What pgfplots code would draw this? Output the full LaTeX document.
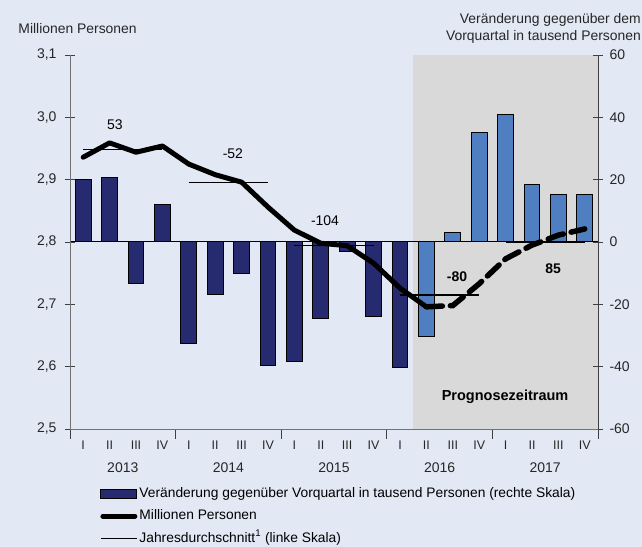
\documentclass[border=0pt]{standalone}
\usepackage{fontspec}
\setmainfont{Liberation Sans}
\usepackage{pgfplots}
\pgfplotsset{compat=1.18}
\usetikzlibrary{backgrounds,calc}
\definecolor{bgcol}{HTML}{E2E9F5}
\definecolor{shadecol}{HTML}{D9D9D9}
\definecolor{navy}{HTML}{262A6E}
\definecolor{lightblue}{HTML}{4F7FC0}
\definecolor{axcol}{HTML}{404040}
\begin{document}
\begin{tikzpicture}
\begin{axis}[name=bars, scale only axis, width=528pt, height=374pt,
  xmin=-0.5, xmax=19.5, ymin=-60, ymax=60,
  axis y line*=right, axis x line*=bottom, axis on top,
  xtick={-0.5,3.5,7.5,11.5,15.5,19.5}, xticklabels={},
  ytick={-60,-40,-20,0,20,40,60},
  tick align=center, major tick length=10pt,
  axis line style={draw=axcol, line width=0.9pt},
  tick style={draw=axcol, line width=0.9pt},
  yticklabel style={font=\fontsize{14}{16}\selectfont, text=black!85, xshift=3pt},
  /pgf/number format/assume math mode=true,
  ybar, bar width=0.6, bar shift=0pt, clip=false]
\fill[shadecol] (axis cs:12.5,-60) rectangle (axis cs:19.5,60);
\addplot[fill=navy, draw=black, line width=1pt] coordinates {
(0,19.9) (1,20.6) (2,-13.2) (3,11.9) (4,-32.7) (5,-16.7) (6,-10.0) (7,-39.5)
(8,-38.2) (9,-24.4) (10,-3.0) (11,-24.0) (12,-40.4)};
\addplot[fill=lightblue, draw=black, line width=1pt] coordinates {
(13,-30.2) (14,3.2) (15,35.0) (16,40.8) (17,18.6) (18,15.1) (19,15.1)};
\draw[black, line width=1pt] (axis cs:-0.5,0) -- (axis cs:19.5,0);
\end{axis}
\begin{axis}[scale only axis, width=528pt, height=374pt,
  xmin=-0.5, xmax=19.5, ymin=2.5, ymax=3.1,
  axis y line*=left, axis x line*=bottom,
  xtick={0,...,19},
  xticklabels={I,II,III,IV,I,II,III,IV,I,II,III,IV,I,II,III,IV,I,II,III,IV},
  xtick style={draw=none},
  xticklabel style={font=\fontsize{12.5}{14}\selectfont, text=black!85, yshift=-3pt},
  extra x ticks={1.5,5.5,9.5,13.5,17.5},
  extra x tick labels={2013,2014,2015,2016,2017},
  extra x tick style={xticklabel style={yshift=-22pt, font=\fontsize{14}{16}\selectfont}},
  ytick={2.5,2.6,2.7,2.8,2.9,3.0,3.1},
  tick align=center, major tick length=10pt,
  axis line style={draw=black!55, line width=0.9pt},
  ytick style={draw=axcol, line width=0.9pt},
  yticklabel style={font=\fontsize{14}{16}\selectfont, text=black!85, xshift=-5pt,
    /pgf/number format/.cd, fixed, fixed zerofill, precision=1, use comma},
  /pgf/number format/assume math mode=true,
  clip=false,
  legend style={at={(0.057,-0.155)}, anchor=north west, draw=none, fill=none,
    font=\fontsize{13.8}{15}\selectfont, row sep=9.5pt, inner sep=0pt,
    nodes={inner xsep=2pt, inner ysep=0pt, text height=10pt, text depth=3pt}},
  legend cell align=left]
\addlegendimage{legend image code/.code={\draw[fill=navy, draw=black, line width=1pt] (0pt,-4.5pt) rectangle (36pt,4.5pt);}}
\addlegendentry{Veränderung gegenüber Vorquartal in tausend Personen (rechte Skala)}
\addplot[black, line width=5pt, line join=round, line cap=round,
  legend image code/.code={\draw[black, line width=5pt, line cap=round] (2pt,0pt) -- (34pt,0pt);}] coordinates {
(0,2.936) (1,2.959) (2,2.944) (3,2.954) (4,2.925) (5,2.908) (6,2.896) (7,2.856)
(8,2.819) (9,2.798) (10,2.794) (11,2.766) (12,2.726) (13,2.696)};
\addlegendentry{Millionen Personen}
\addplot[black, line width=5.5pt, dash pattern=on 16pt off 8pt, line cap=round, forget plot] coordinates {
(13,2.696) (14,2.698) (15,2.733) (16,2.773) (17,2.795) (18,2.811) (19,2.821)};
\addplot[black, line width=1.2pt, legend image code/.code={\draw[black, line width=1.2pt] (0pt,0pt) -- (36pt,0pt);}] coordinates {(0,2.949) (3,2.949)};
\addlegendentry{Jahresdurchschnitt\textsuperscript{1} (linke Skala)}
\addplot[black, line width=1.2pt, forget plot] coordinates {(4,2.896) (7,2.896)};
\addplot[black, line width=1.2pt, forget plot] coordinates {(8,2.794) (11,2.794)};
\addplot[black, line width=1.2pt, forget plot] coordinates {(12,2.715) (15,2.715)};
\addplot[black, line width=1.2pt, forget plot] coordinates {(16,2.800) (19,2.800)};
\node[font=\fontsize{14}{16}\selectfont] at (axis cs:1.2,2.988) {53};
\node[font=\fontsize{14}{16}\selectfont] at (axis cs:5.67,2.941) {-52};
\node[font=\fontsize{14}{16}\selectfont] at (axis cs:9.16,2.835) {-104};
\node[font=\bfseries\fontsize{14}{16}\selectfont] at (axis cs:14.16,2.744) {-80};
\node[font=\bfseries\fontsize{14}{16}\selectfont] at (axis cs:17.8,2.757) {85};
\node[font=\bfseries\fontsize{14.5}{16}\selectfont] at (axis cs:15.98,2.551) {Prognosezeitraum};
\node[anchor=west, font=\fontsize{13.9}{15}\selectfont, text=black!85, inner sep=0pt] at (rel axis cs:-0.098,1.072) {Millionen Personen};
\node[anchor=east, align=right, font=\fontsize{13.9}{17}\selectfont, text=black!85, inner sep=0pt] at (rel axis cs:1.0814,1.071) {Veränderung gegenüber dem\\Vorquartal in tausend Personen};
\end{axis}
\begin{scope}[on background layer]
\fill[bgcol] ($(bars.south west)+(-70pt,-118pt)$) rectangle ($(bars.north east)+(44pt,55pt)$);
\end{scope}
\pgfresetboundingbox
\path ($(bars.south west)+(-70pt,-118pt)$) rectangle ($(bars.north east)+(44pt,55pt)$);
\end{tikzpicture}
\end{document}
